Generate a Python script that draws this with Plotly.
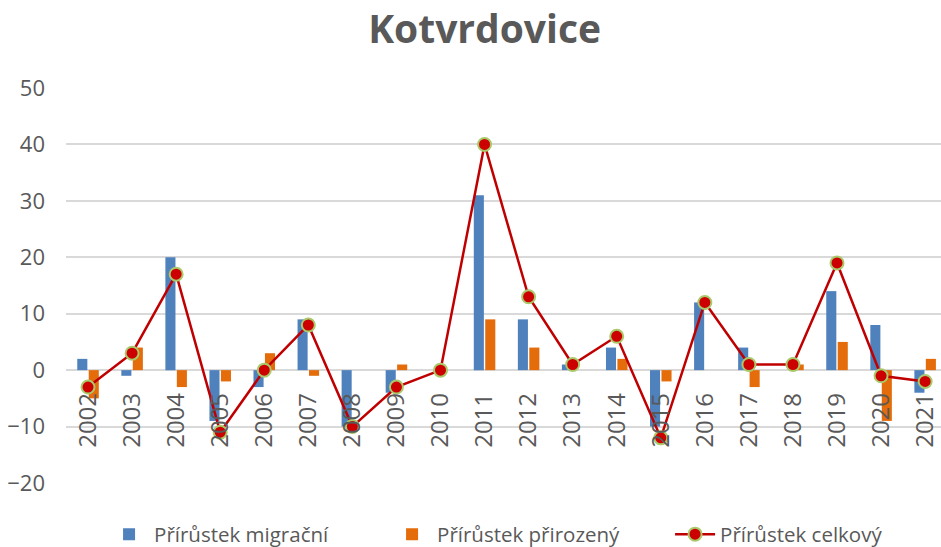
import plotly.graph_objects as go

years = [str(y) for y in range(2002, 2022)]
migracni = [2, -1, 20, -9, -3, 9, -10, -4, 0, 31, 9, 1, 4, -10, 12, 4, 0, 14, 8, -4]
prirozeny = [-5, 4, -3, -2, 3, -1, 0, 1, 0, 9, 4, 0, 2, -2, 0, -3, 1, 5, -9, 2]
celkovy = [-3, 3, 17, -11, 0, 8, -10, -3, 0, 40, 13, 1, 6, -12, 12, 1, 1, 19, -1, -2]
y_ticks = [-20, -10, 0, 10, 20, 30, 40, 50]

grey = "#595959"
font_family = "Open Sans, Noto Sans, sans-serif"

fig = go.Figure()
fig.add_trace(go.Bar(x=years, y=migracni, name="Přírůstek migrační",
                     marker=dict(color="#4f81bd", line=dict(width=0))))
fig.add_trace(go.Bar(x=years, y=prirozeny, name="Přírůstek přirozený",
                     marker=dict(color="#e46c0a", line=dict(width=0))))
fig.add_trace(go.Scatter(x=years, y=celkovy, name="Přírůstek celkový",
                         mode="lines+markers",
                         line=dict(color="#c00000", width=2.5),
                         marker=dict(size=13, color="#cc0000",
                                     line=dict(color="#a9c96a", width=2))))

fig.update_layout(
    width=941, height=547,
    margin=dict(l=66, r=0, t=88, b=64, autoexpand=False),
    paper_bgcolor="white", plot_bgcolor="white",
    barmode="group", bargap=0.48, bargroupgap=0.12,
    title=dict(text="<b>Kotvrdovice</b>", x=0.515, xanchor="center",
               y=0.946, yanchor="middle",
               font=dict(family=font_family, size=39, color=grey)),
    font=dict(family=font_family, color=grey),
    showlegend=True,
    legend=dict(orientation="h", x=0.0435, xanchor="left", y=-0.13, yanchor="middle",
                font=dict(size=20.5, color=grey), itemwidth=40,
                entrywidth=228, entrywidthmode="pixels"),
    xaxis=dict(type="category", range=[-0.5, 19.36], anchor="free",
               position=20 / 70, showgrid=False, showline=False,
               tickangle=-90, tickfont=dict(size=24, color=grey),
               ticks="", ticklabelstandoff=17, automargin=False),
    yaxis=dict(range=[-20, 50], tickvals=y_ticks, showgrid=True,
               gridcolor="#d9d9d9", gridwidth=1.5, zeroline=True,
               zerolinecolor="#d9d9d9", zerolinewidth=1.5,
               tickfont=dict(size=22, color=grey), ticks="",
               ticklabelstandoff=20, automargin=False),
)

fig.write_html("out.html", config={"displayModeBar": False},
               post_script="document.body.style.margin='0';document.body.style.overflow='hidden';")
